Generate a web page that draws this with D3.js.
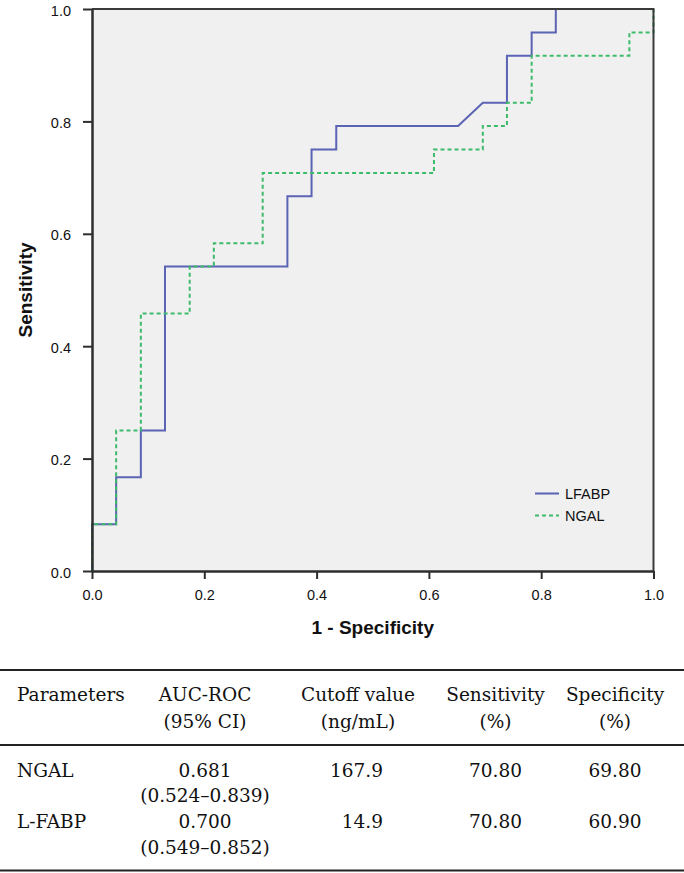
<!DOCTYPE html>
<html>
<head>
<meta charset="utf-8">
<script src="https://cdn.jsdelivr.net/npm/d3@7"></script>
<style>
  html, body { margin: 0; padding: 0; background: #fff; }
  svg { display: block; }
</style>
</head>
<body>
<svg id="chart" width="684" height="873"></svg>
<script>
// ---------- Data ----------
const seriesNames = ["LFABP", "NGAL"];
const tickValues = [0.0, 0.2, 0.4, 0.6, 0.8, 1.0];

// ROC curve vertices (1 - specificity, sensitivity)
const lfabpFpr = [0, 0, 0.043, 0.043, 0.087, 0.087, 0.130, 0.130, 0.348, 0.348, 0.391, 0.391, 0.435, 0.435, 0.652, 0.696, 0.739, 0.739, 0.783, 0.783, 0.826, 0.826, 1.0];
const lfabpTpr = [0, 0.083, 0.083, 0.167, 0.167, 0.250, 0.250, 0.542, 0.542, 0.667, 0.667, 0.750, 0.750, 0.792, 0.792, 0.833, 0.833, 0.917, 0.917, 0.958, 0.958, 1.0, 1.0];

const ngalFpr = [0, 0, 0.043, 0.043, 0.087, 0.087, 0.174, 0.174, 0.217, 0.217, 0.304, 0.304, 0.609, 0.609, 0.696, 0.696, 0.739, 0.739, 0.783, 0.783, 0.957, 0.957, 1.0, 1.0];
const ngalTpr = [0, 0.083, 0.083, 0.250, 0.250, 0.458, 0.458, 0.542, 0.542, 0.583, 0.583, 0.708, 0.708, 0.750, 0.750, 0.792, 0.792, 0.833, 0.833, 0.917, 0.917, 0.958, 0.958, 1.0];

// Table
const tableHeader1 = ["Parameters", "AUC-ROC", "Cutoff value", "Sensitivity", "Specificity"];
const tableHeader2 = ["", "(95% CI)", "(ng/mL)", "(%)", "(%)"];
const tableParams = ["NGAL", "L-FABP"];
const tableAuc = ["0.681", "0.700"];
const tableCi = ["(0.524–0.839)", "(0.549–0.852)"];
const tableCutoff = ["167.9", "14.9"];
const tableSens = ["70.80", "70.80"];
const tableSpec = ["69.80", "60.90"];

// ---------- Chart ----------
const svg = d3.select("#chart");
const plot = { left: 92, right: 653.5, top: 9, bottom: 571 };

const x = d3.scaleLinear().domain([0, 1]).range([plot.left, plot.right]);
const y = d3.scaleLinear().domain([0, 1]).range([plot.bottom, plot.top]);

// background
svg.append("rect")
  .attr("x", x(0)).attr("y", y(1))
  .attr("width", x(1) - x(0)).attr("height", y(0) - y(1))
  .attr("fill", "#f0f0f0");

const colors = { LFABP: "#5a63b4", NGAL: "#3dba6a" };

const line = d3.line().x(d => x(d[0])).y(d => y(d[1]));
const lfabpPts = lfabpFpr.map((v, i) => [v, lfabpTpr[i]]);
const ngalPts = ngalFpr.map((v, i) => [v, ngalTpr[i]]);

svg.append("path").datum(lfabpPts)
  .attr("d", line).attr("fill", "none")
  .attr("stroke", colors.LFABP).attr("stroke-width", 2)
  .attr("stroke-linejoin", "miter");

svg.append("path").datum(ngalPts)
  .attr("d", line).attr("fill", "none")
  .attr("stroke", colors.NGAL).attr("stroke-width", 2)
  .attr("stroke-dasharray", "4,3");

// frame (top and right)
svg.append("path")
  .attr("d", `M${x(0)},${y(1)}H${x(1)}V${y(0)}`)
  .attr("fill", "none").attr("stroke", "#3a3a3a").attr("stroke-width", 2);

// axes
const fmt = d3.format(".1f");
const yAxis = svg.append("g").attr("transform", `translate(${x(0)},0)`)
  .call(d3.axisLeft(y).tickValues(tickValues).tickFormat(fmt).tickSize(9).tickSizeOuter(0).tickPadding(12));
const xAxis = svg.append("g").attr("transform", `translate(0,${y(0)})`)
  .call(d3.axisBottom(x).tickValues(tickValues).tickFormat(fmt).tickSize(8).tickSizeOuter(0).tickPadding(11));

[xAxis, yAxis].forEach(g => {
  g.select(".domain").attr("stroke", "#2e2e2e").attr("stroke-width", 2.5);
  g.selectAll(".tick line").attr("stroke", "#2e2e2e").attr("stroke-width", 2);
  g.selectAll(".tick text")
    .attr("fill", "#111")
    .style("font-family", "'Liberation Sans', Arial, sans-serif")
    .style("font-size", "14.5px");
});
yAxis.selectAll(".tick text").attr("dy", "0.42em");

// axis titles
svg.append("text")
  .attr("x", (x(0) + x(1)) / 2).attr("y", 634)
  .attr("text-anchor", "middle")
  .style("font-family", "'Liberation Sans', Arial, sans-serif")
  .style("font-size", "19px").style("font-weight", "bold")
  .attr("fill", "#111")
  .text("1 - Specificity");

svg.append("text")
  .attr("transform", `translate(32,${(y(0) + y(1)) / 2}) rotate(-90)`)
  .attr("text-anchor", "middle")
  .style("font-family", "'Liberation Sans', Arial, sans-serif")
  .style("font-size", "19px").style("font-weight", "bold")
  .attr("fill", "#111")
  .text("Sensitivity");

// legend
const legend = svg.append("g");
seriesNames.forEach((name, i) => {
  const ly = 493.5 + i * 22;
  legend.append("line")
    .attr("x1", 535).attr("x2", 559).attr("y1", ly).attr("y2", ly)
    .attr("stroke", colors[name]).attr("stroke-width", 2)
    .attr("stroke-dasharray", name === "NGAL" ? "4,3" : null);
  legend.append("text")
    .attr("x", 565).attr("y", ly + 5.5)
    .style("font-family", "'Liberation Sans', Arial, sans-serif")
    .style("font-size", "14.5px")
    .attr("fill", "#111")
    .text(name);
});

// ---------- Table ----------
const tbl = svg.append("g")
  .style("font-family", "'DejaVu Serif', serif")
  .style("font-size", "18.5px")
  .attr("fill", "#111");

const rules = [670, 745, 870.5];
rules.forEach(ry => {
  tbl.append("line").attr("x1", 0).attr("x2", 684).attr("y1", ry).attr("y2", ry)
    .attr("stroke", "#222").attr("stroke-width", 2);
});

const colX = [17, 205, 358, 495.5, 615];
tableHeader1.forEach((t, i) => {
  tbl.append("text").attr("x", colX[i]).attr("y", 700.5)
    .attr("text-anchor", i === 0 ? "start" : "middle").text(t);
});
tableHeader2.forEach((t, i) => {
  if (!t) return;
  tbl.append("text").attr("x", colX[i]).attr("y", 728)
    .attr("text-anchor", "middle").text(t);
});

const rowY = [776.5, 828.3];
tableParams.forEach((p, r) => {
  const ry = rowY[r];
  tbl.append("text").attr("x", colX[0]).attr("y", ry).text(p);
  tbl.append("text").attr("x", colX[1]).attr("y", ry).attr("text-anchor", "middle").text(tableAuc[r]);
  tbl.append("text").attr("x", colX[1]).attr("y", ry + 25.5).attr("text-anchor", "middle").text(tableCi[r]);
  tbl.append("text").attr("x", 383).attr("y", ry).attr("text-anchor", "end").text(tableCutoff[r]);
  tbl.append("text").attr("x", colX[3]).attr("y", ry).attr("text-anchor", "middle").text(tableSens[r]);
  tbl.append("text").attr("x", colX[4]).attr("y", ry).attr("text-anchor", "middle").text(tableSpec[r]);
});
</script>
</body>
</html>
